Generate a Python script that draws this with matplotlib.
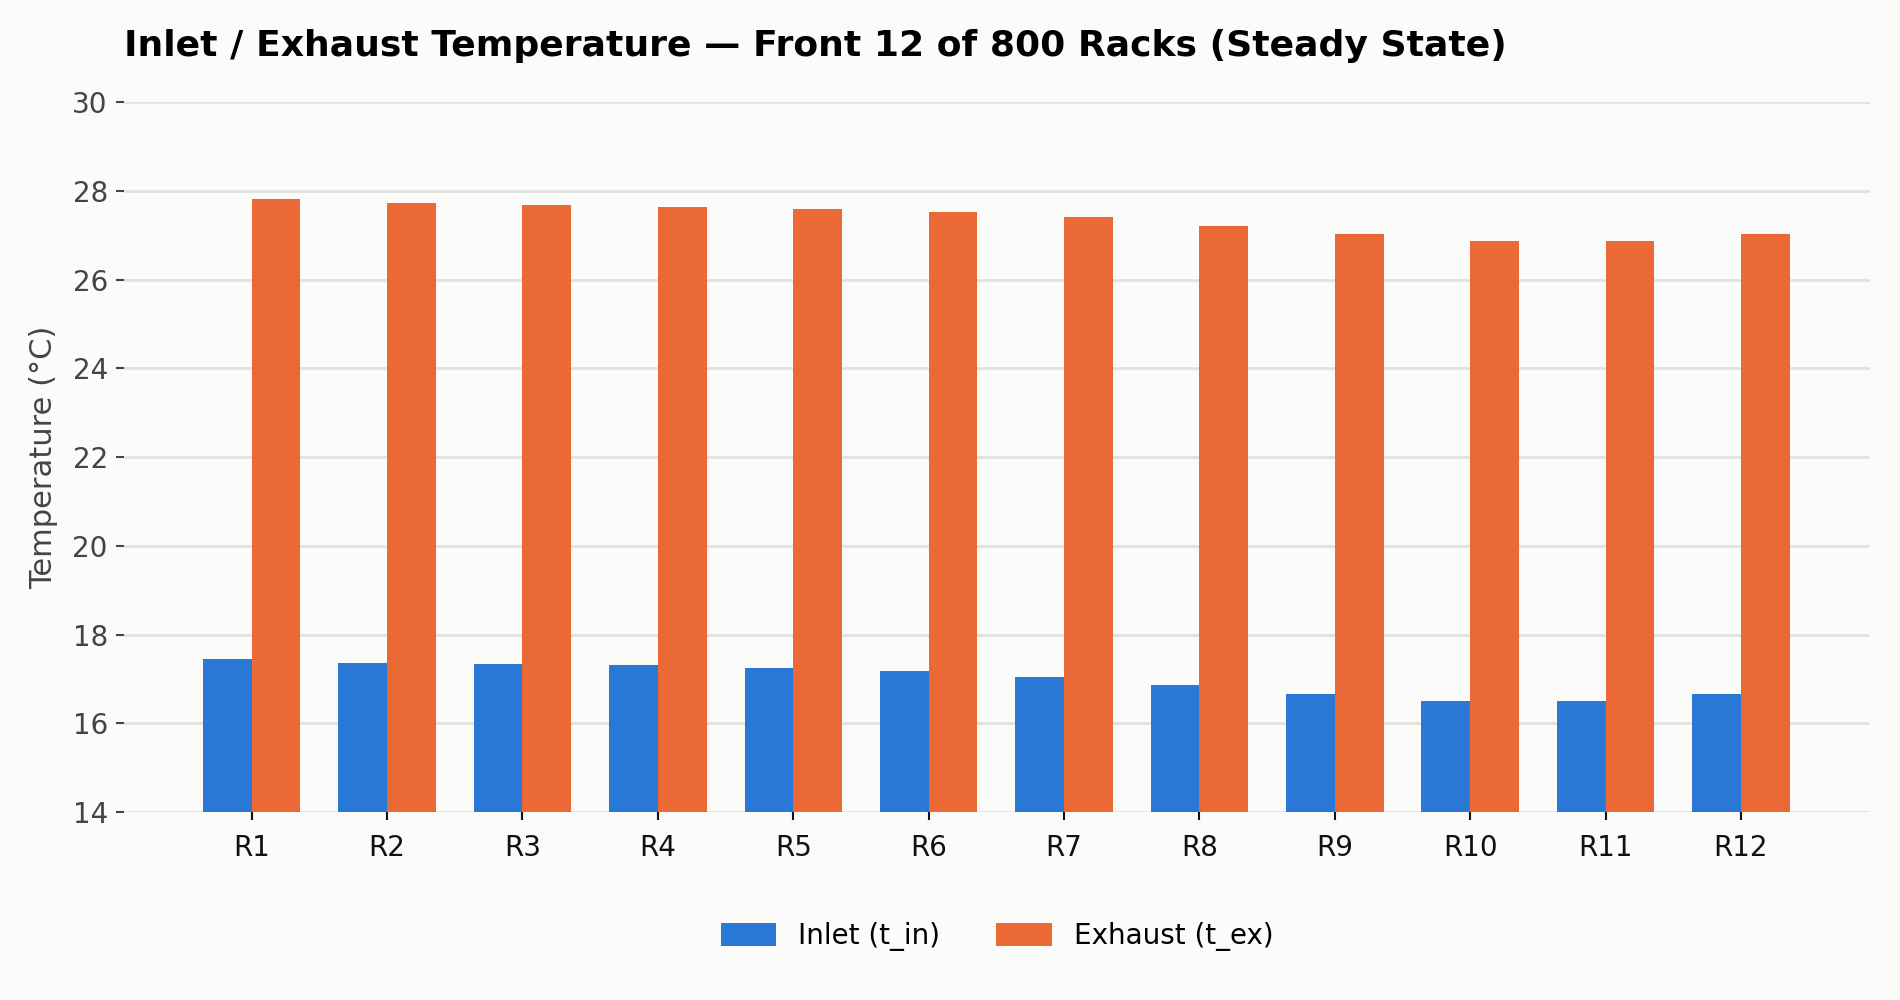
import numpy as np
import matplotlib.pyplot as plt

racks = ["R1", "R2", "R3", "R4", "R5", "R6", "R7", "R8", "R9", "R10", "R11", "R12"]
t_in = [17.45, 17.36, 17.34, 17.32, 17.25, 17.18, 17.05, 16.86, 16.66, 16.50, 16.50, 16.66]
t_ex = [27.81, 27.72, 27.69, 27.64, 27.60, 27.51, 27.40, 27.21, 27.02, 26.86, 26.86, 27.02]

bg = "#fbfbf9"
c_in = "#2a78d6"
c_ex = "#eb6837"

fig = plt.figure(figsize=(19, 10), dpi=100, facecolor=bg)
ax = fig.add_axes([0.0655, 0.188, 0.9185, 0.710], facecolor=bg)

x = np.arange(len(racks))
w = 0.36
ax.bar(x - w / 2, t_in, w, color=c_in, label="Inlet (t_in)", zorder=3)
ax.bar(x + w / 2, t_ex, w, color=c_ex, label="Exhaust (t_ex)", zorder=3)

ax.set_ylim(14, 30)
ax.set_yticks(range(14, 31, 2))
ax.set_xlim(-0.94, 11.95)
ax.set_xticks(x)
ax.set_xticklabels(racks)

ax.grid(axis="y", color="#e2e2de", linewidth=2, zorder=0)
for s in ax.spines.values():
    s.set_visible(False)

ax.tick_params(axis="y", labelsize=20, labelcolor="#444444", color="#444444", length=6, width=1.5, pad=6)
ax.tick_params(axis="x", labelsize=20, labelcolor="#111111", color="#111111", length=6, width=1.5, pad=10)

ax.set_ylabel("Temperature (°C)", fontsize=22, color="#444444", labelpad=10)
ax.set_title("Inlet / Exhaust Temperature — Front 12 of 800 Racks (Steady State)",
             loc="left", fontsize=26, fontweight="bold", pad=33)

ax.legend(loc="upper center", bbox_to_anchor=(0.5, -0.12), ncol=2, frameon=False,
          fontsize=20, handlelength=2.0, handleheight=0.9, columnspacing=2.0)

fig.savefig("out.png", dpi=100, facecolor=bg)
